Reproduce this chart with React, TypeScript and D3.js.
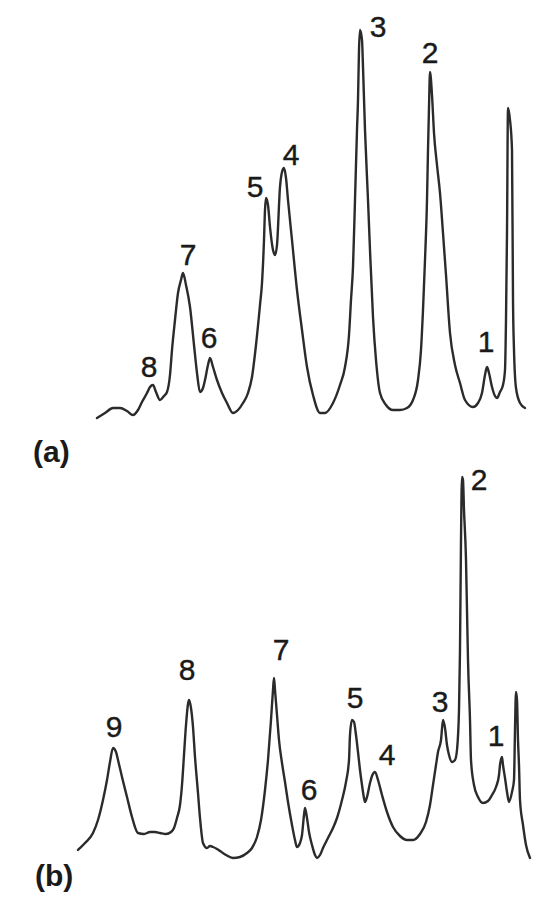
import React from "react";
import * as d3 from "d3";

// Retention (arbitrary units) and detector signal (arbitrary units)
const traceA_time: number[] = [27,35,43,50,57,63,68,72,77,80,83,86,90,94,97,100,102,105,108,111,113,116,120,124,127,130,133,135,138,140,143,147,152,157,163,168,173,178,182,186,190,192,194,195,196,198,200,203,205,207,210,212,214,216,218,222,227,232,237,243,250,255,263,270,275,279,281,283,285,287,288,289,290,292,293,295,298,300,303,306,310,316,323,330,337,343,348,351,353,355,357,358,359,360,362,364,367,370,373,376,380,385,390,395,403,408,412,415,417,419,422,425,427,430,433,435,436,437,438,440,442,443,444,446,450,455];
const traceA_signal: number[] = [12,17,22,22,19,15,20,28,37,43,45,38,30,34,38,55,80,110,137,150,157,145,123,85,57,38,42,50,65,72,63,50,37,27,17,20,27,37,53,85,125,147,190,220,232,225,203,180,175,185,243,258,262,252,230,190,140,100,63,35,17,17,27,45,63,95,130,163,230,300,330,380,400,390,363,300,230,180,113,70,37,25,20,20,22,30,50,80,120,170,230,280,323,358,335,297,265,237,197,155,97,65,47,30,23,27,37,55,63,57,43,34,32,38,45,60,110,197,322,310,280,130,80,42,27,22];

const traceB_time: number[] = [8,15,23,28,33,37,40,43,46,48,52,57,62,68,74,80,85,90,96,101,104,107,110,112,114,116,118,119,121,123,125,128,130,133,137,140,143,147,150,156,163,170,177,182,187,191,195,198,201,203,204,205,207,209,212,215,218,222,225,227,230,232,234,235,237,239,242,245,247,250,253,258,263,267,272,276,279,280,282,284,286,288,290,292,294,295,297,300,302,305,308,312,317,323,330,337,343,350,356,360,363,366,368,371,373,375,377,379,382,385,387,389,390,391,392,393,394,396,397,398,400,401,404,408,413,418,422,426,429,430,432,433,435,437,439,442,444,445,446,447,448,449,450,453,456,460,463];
const traceB_signal: number[] = [20,27,37,50,70,90,108,122,118,110,93,73,53,37,36,38,38,37,36,38,42,52,65,85,115,145,166,170,162,143,113,77,52,27,22,24,23,21,19,15,12,13,17,22,33,50,80,110,150,180,192,180,155,130,107,88,68,45,30,23,27,35,55,62,52,38,25,15,12,15,22,32,42,52,70,88,110,135,150,148,135,118,100,85,72,68,73,87,94,98,90,75,58,43,34,30,30,36,48,65,85,105,118,130,150,142,125,115,108,110,120,160,220,330,393,390,360,310,260,210,150,110,85,73,67,69,75,83,95,105,113,105,92,78,68,78,90,140,178,170,130,105,70,45,25,12];

// Peak labels: retention of peak, height of the label baseline above trace base
const labelsA: string[] = ["8","7","6","5","4","3","2","1"];
const labelsA_time: number[] = [79,118,139,185,221,308,360,416];
const labelsA_level: number[] = [53,165,82,233,265,393,367,78];

const labelsB: string[] = ["9","8","7","6","5","4","3","2","1"];
const labelsB_time: number[] = [44,117,211,239,285,317,370,409,426];
const labelsB_level: number[] = [133,190,210,70,162,105,158,380,124];

const panelTags: string[] = ["(a)", "(b)"];

const W = 538;
const H = 914;

export default function App() {
  const x = d3.scaleLinear().domain([0, 468]).range([70, 538]);
  const yA = d3.scaleLinear().domain([0, 430]).range([430, 0]);
  const yB = d3.scaleLinear().domain([0, 440]).range([870, 430]);

  const lineA = d3
    .line<number>()
    .x((_, i) => x(traceA_time[i]))
    .y((d) => yA(d))
    .curve(d3.curveMonotoneX);
  const lineB = d3
    .line<number>()
    .x((_, i) => x(traceB_time[i]))
    .y((d) => yB(d))
    .curve(d3.curveMonotoneX);

  const font = "'Liberation Sans', Arial, Helvetica, sans-serif";
  const ink = "#2b2b2b";

  return (
    <svg
      width={W}
      height={H}
      viewBox={`0 0 ${W} ${H}`}
      style={{ position: "absolute", left: 0, top: 0, background: "#fff" }}
    >
      <rect x={0} y={0} width={W} height={H} fill="#fff" />
      <path d={lineA(traceA_signal) ?? ""} fill="none" stroke={ink} strokeWidth={2.4} strokeLinejoin="round" strokeLinecap="round" />
      <path d={lineB(traceB_signal) ?? ""} fill="none" stroke={ink} strokeWidth={2.4} strokeLinejoin="round" strokeLinecap="round" />
      {labelsA.map((l, i) => (
        <text key={"a" + i} x={x(labelsA_time[i])} y={yA(labelsA_level[i])} textAnchor="middle" fontFamily={font} fontSize={30} fill="#1a1a1a" stroke="#1a1a1a" strokeWidth={0.4}>
          {l}
        </text>
      ))}
      {labelsB.map((l, i) => (
        <text key={"b" + i} x={x(labelsB_time[i])} y={yB(labelsB_level[i])} textAnchor="middle" fontFamily={font} fontSize={30} fill="#1a1a1a" stroke="#1a1a1a" strokeWidth={0.4}>
          {l}
        </text>
      ))}
      <text x={33} y={462} fontFamily={font} fontSize={30} fontWeight="bold" fill="#1a1a1a">{panelTags[0]}</text>
      <text x={35} y={886} fontFamily={font} fontSize={30} fontWeight="bold" fill="#1a1a1a">{panelTags[1]}</text>
    </svg>
  );
}
